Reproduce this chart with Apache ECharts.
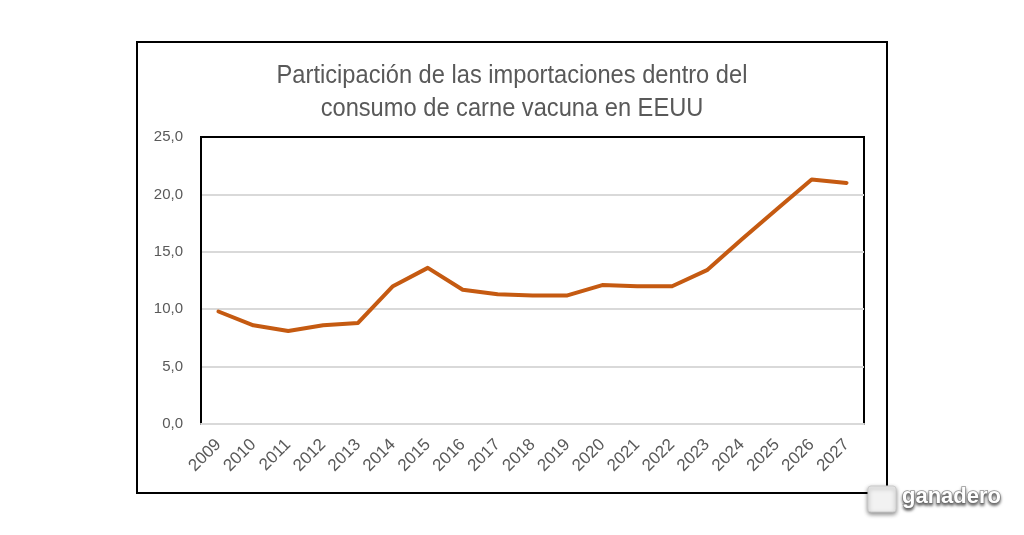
<!DOCTYPE html>
<html>
<head>
<meta charset="utf-8">
<script src="https://cdn.jsdelivr.net/npm/echarts@6/dist/echarts.min.js"></script>
<style>
  html, body { margin: 0; padding: 0; background: #fff; }
  #chart { width: 1024px; height: 535px; }
</style>
</head>
<body>
<div id="chart"></div>
<script>
// datos
const years = ['2009','2010','2011','2012','2013','2014','2015','2016','2017','2018',
               '2019','2020','2021','2022','2023','2024','2025','2026','2027']
const share = [9.8, 8.6, 8.1, 8.6, 8.8, 12.0, 13.6, 11.7, 11.3, 11.2,
               11.2, 12.1, 12.0, 12.0, 13.4, 16.1, 18.7, 21.3, 21.0]
const titleLines = ['Participación de las importaciones dentro del', 'consumo de carne vacuna en EEUU']

const chart = echarts.init(document.getElementById('chart'))

const option = {
  animation: false,
  backgroundColor: '#fff',
  grid: {
    left: 201,
    right: 160,
    top: 137,
    bottom: 111,
    show: true,
    borderColor: '#000',
    borderWidth: 2
  },
  xAxis: {
    type: 'category',
    data: years,
    boundaryGap: true,
    axisLine: { lineStyle: { color: '#d9d9d9', width: 2 } },
    axisTick: { show: false },
    axisLabel: {
      rotate: 45,
      color: '#595959',
      fontFamily: 'Liberation Sans, Arial',
      fontSize: 17,
      margin: 18,
      interval: 0
    }
  },
  yAxis: {
    type: 'value',
    min: 0,
    max: 25,
    interval: 5,
    axisLine: { show: true, lineStyle: { color: '#000', width: 2 } },
    axisTick: { show: false },
    splitLine: { showMaxLine: false, lineStyle: { color: '#d9d9d9', width: 2 } },
    axisLabel: {
      color: '#595959',
      fontFamily: 'Liberation Sans, Arial',
      fontSize: 15,
      margin: 18,
      formatter: function (v) { return v.toFixed(1).replace('.', ',') }
    }
  },
  series: [{
    type: 'line',
    data: share,
    symbol: 'none',
    lineStyle: { color: '#c55a11', width: 4, join: 'round', cap: 'round' }
  }],
  graphic: [
    {
      type: 'text',
      x: 512,
      y: 59,
      scaleX: 0.91,
      style: {
        text: titleLines.join('\n'),
        align: 'center',
        verticalAlign: 'top',
        fontFamily: 'Liberation Sans, Arial',
        fontSize: 26,
        lineHeight: 33,
        fill: '#595959'
      }
    },
    {
      type: 'rect',
      shape: { x: 137, y: 42, width: 750, height: 451 },
      style: { fill: 'none', stroke: '#000', lineWidth: 2 },
      z: 10
    },
    {
      type: 'rect',
      shape: { x: 868, y: 486, width: 28, height: 26, r: 3 },
      style: {
        fill: '#f2f2f2',
        stroke: '#ccc',
        shadowColor: 'rgba(0,0,0,0.45)',
        shadowBlur: 4,
        shadowOffsetY: 2
      },
      z: 20
    },
    {
      type: 'text',
      x: 902,
      y: 486,
      style: {
        text: 'ganadero',
        fontFamily: 'Liberation Sans, Arial',
        fontWeight: 'bold',
        fontSize: 22,
        fill: '#ffffff',
        stroke: '#9a9a9a',
        lineWidth: 1.5,
        textShadowColor: 'rgba(0,0,0,0.5)',
        textShadowBlur: 3,
        textShadowOffsetY: 2
      },
      z: 20
    }
  ]
}

chart.setOption(option)
</script>
</body>
</html>
